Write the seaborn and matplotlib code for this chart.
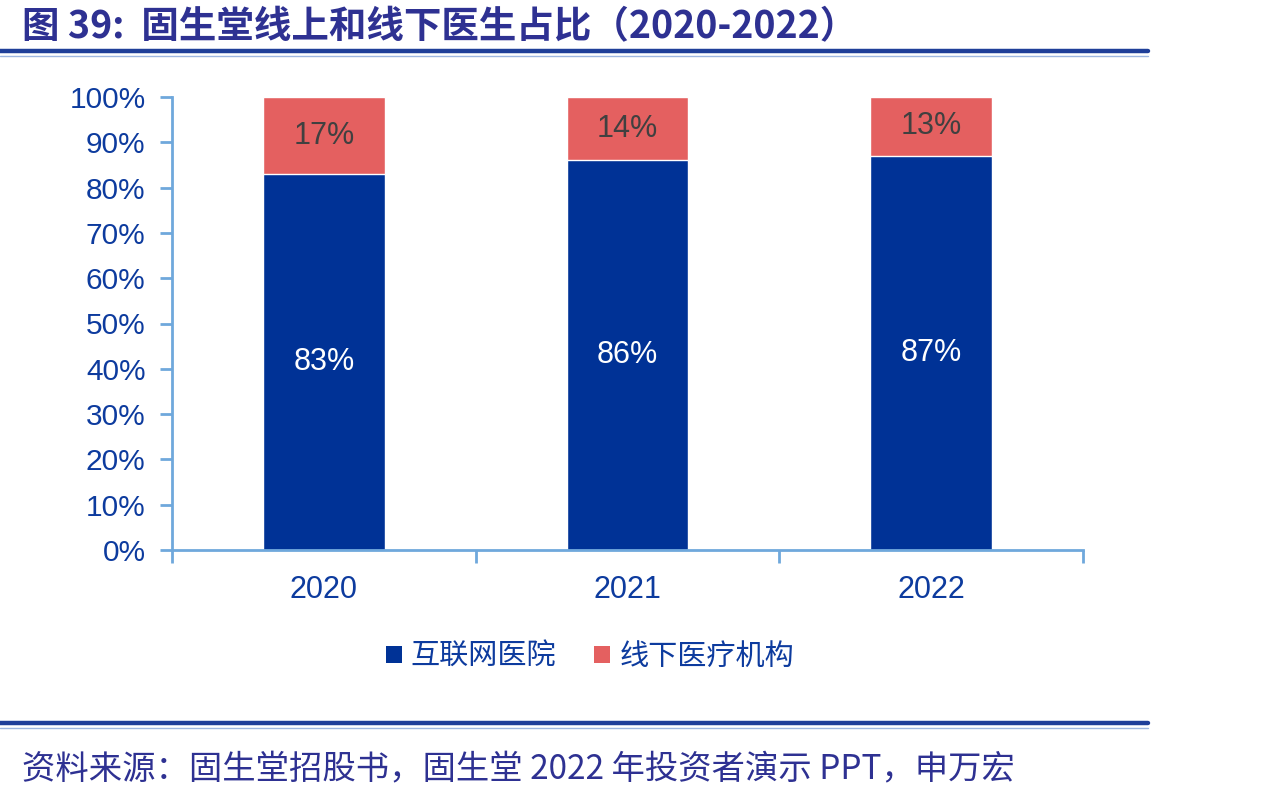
import matplotlib
matplotlib.use("Agg")
import matplotlib.pyplot as plt
import seaborn as sns
import pandas as pd
from matplotlib.lines import Line2D
from matplotlib.patches import Patch

years = ["2020", "2021", "2022"]
online = [83, 86, 87]
offline = [17, 14, 13]
series_names = ["互联网医院", "线下医疗机构"]
yticks = [0, 10, 20, 30, 40, 50, 60, 70, 80, 90, 100]

title = "图 39:  固生堂线上和线下医生占比（2020-2022）"
source = "资料来源：固生堂招股书，固生堂 2022 年投资者演示 PPT，申万宏"

BLUE = "#003296"
RED = "#E46060"
SPINE = "#6FA8DC"
TXT = "#0D3B9E"
TITLE_C = "#2E3192"

sns.set_theme(style="white")
plt.rcParams["font.family"] = ["Liberation Sans", "Noto Sans CJK SC", "DejaVu Sans"]

df = pd.DataFrame({"year": years, "online": online, "offline": offline})
df["total"] = df["online"] + df["offline"]

fig = plt.figure(figsize=(12.66, 8.0), dpi=100)
ax = fig.add_axes([172/1266, 1-550/800, (1083-172)/1266, (550-97)/800])

sns.barplot(data=df, x="year", y="total", color=RED, width=0.4, ax=ax, saturation=1)
sns.barplot(data=df, x="year", y="online", color=BLUE, width=0.4, ax=ax, saturation=1)

ax.set_xlim(-0.5, 2.5)
ax.set_ylim(0, 100)
ax.set_yticks(yticks)
ax.set_yticklabels([f"{v}%" for v in yticks])
ax.set_xlabel("")
ax.set_ylabel("")

for s in ["top", "right"]:
    ax.spines[s].set_visible(False)
for s in ["left", "bottom"]:
    ax.spines[s].set_color(SPINE)
    ax.spines[s].set_linewidth(2)

ax.tick_params(axis="y", direction="out", length=9, width=2, color=SPINE,
               labelsize=21.5, labelcolor=TXT, pad=10, left=True)
ax.set_xticks([0, 1, 2])
ax.set_xticklabels(years)
ax.tick_params(axis="x", length=0, labelsize=22, labelcolor=TXT, pad=18)
ax.set_xticks([-0.5, 0.5, 1.5, 2.5], minor=True)
ax.tick_params(axis="x", which="minor", direction="out", length=9, width=2, color=SPINE, bottom=True)
ax.grid(False)

for i, (a, b) in enumerate(zip(online, offline)):
    ax.text(i, a / 2, f"{a}%", ha="center", va="center", color="white", fontsize=22)
    ax.text(i, a + b / 2, f"{b}%", ha="center", va="center", color="#404040", fontsize=22)

handles = [Patch(facecolor=BLUE, edgecolor="none"), Patch(facecolor=RED, edgecolor="none")]
fig.legend(handles, series_names, loc="center", bbox_to_anchor=(590/1266, 1-657/800),
           ncol=2, frameon=False, labelcolor=TXT,
           handlelength=0.55, handleheight=0.55, handletextpad=0.3, columnspacing=1.3,
           prop={"family": ["Noto Sans CJK SC"], "size": 21})

fig.text(22/1266, 1-27/800, title, ha="left", va="center", fontsize=27, fontweight="bold",
         color=TITLE_C, family=["Noto Sans CJK SC"])
fig.add_artist(Line2D([0, 1148/1266], [1-51/800, 1-51/800], color="#1F3F99", lw=3.2))
fig.add_artist(Line2D([0, 1148/1266], [1-55.5/800, 1-55.5/800], color="#9DB6E0", lw=1))
fig.add_artist(Line2D([0, 1148/1266], [1-723/800, 1-723/800], color="#1F3F99", lw=3.2))
fig.add_artist(Line2D([0, 1148/1266], [1-727.5/800, 1-727.5/800], color="#9DB6E0", lw=1))
fig.text(22/1266, 1-770/800, source, ha="left", va="center", fontsize=24,
         color=TITLE_C, family=["Noto Sans CJK SC"])

fig.savefig("out.png", dpi=100)
